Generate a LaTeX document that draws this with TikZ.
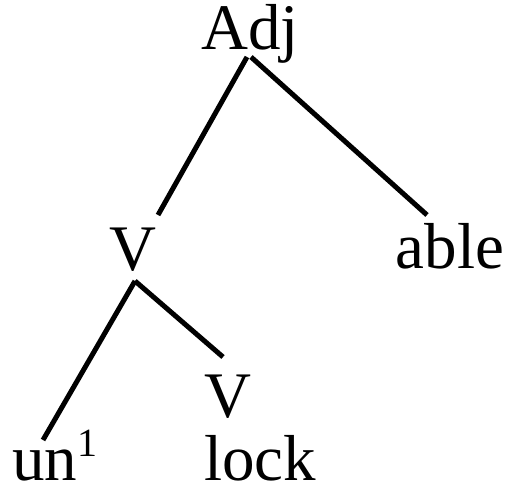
\documentclass[tikz,border=0pt]{standalone}
\usepackage{fontspec}
\setmainfont{Liberation Serif}
\newfontfamily\tms{Liberation Serif}
\usetikzlibrary{calc}
\def\bigfont{\tms\fontsize{65}{78}\selectfont}
\def\supone{\raisebox{24pt}{\fontsize{40}{48}\selectfont 1}}
\tikzset{lbl/.style={inner sep=0pt,anchor=base,font=\bigfont},
  branch/.style={line width=5pt}}
\begin{document}
\begin{tikzpicture}[x=1pt,y=-1pt]
  \useasboundingbox (0,0) rectangle (507,495);
    \node[lbl] (adj) at (250,50) {Adj};
    \node[lbl] (v1) at (133,270) {V};
   \node[lbl] (able) at (450,268) {able};
    \node[lbl] (v2) at (228,417) {V};
  \node[lbl,anchor=base west] (un) at (12,480) {un\supone};
    \node[lbl,anchor=base west] (lock) at (204,480) {lock};
  % branch ends
  \coordinate (adjL) at (247,57); \coordinate (v1top) at (158,215);
  \coordinate (adjR) at (251,57); \coordinate (abletop) at (427,215);
  \coordinate (v1L) at (135,281); \coordinate (untop) at (43,440);
  \coordinate (v1R) at (135,281); \coordinate (v2top) at (223,357);
   \draw[branch] (adjL) -- (v1top);
   \draw[branch] (adjR) -- (abletop);
   \draw[branch] (v1L) -- (untop);
   \draw[branch] (v1R) -- (v2top);
\end{tikzpicture}
\end{document}
